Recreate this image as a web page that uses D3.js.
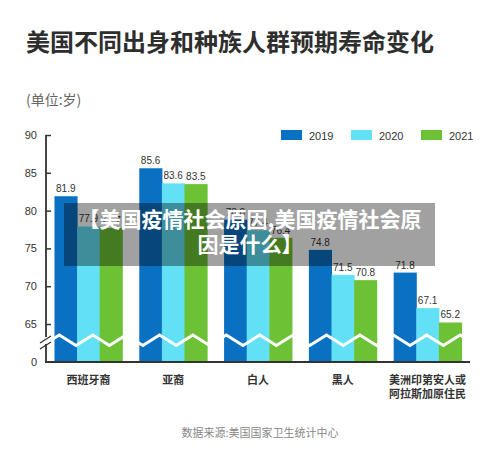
<!DOCTYPE html>
<html><head><meta charset="utf-8">
<script src="https://cdn.jsdelivr.net/npm/d3@7"></script>
<style>
body{margin:0;background:#fff;}
svg{display:block;}
</style></head>
<body>
<script>
const categories = ["西班牙裔","亚裔","白人","黑人","美洲印第安人或\n阿拉斯加原住民"];
const years = ["2019","2020","2021"];
const v2019 = [81.9, 85.6, 78.8, 74.8, 71.8];
const v2020 = [77.9, 83.6, 77.4, 71.5, 67.1];
const v2021 = [77.7, 83.5, 76.4, 70.8, 65.2];
const yTicks = [0, 65, 70, 75, 80, 85, 90];
const colors = ["#0a70c2", "#62e0f5", "#6cc135"];
const seriesVals = [v2019, v2020, v2021];

const W = 500, H = 470;
const svg = d3.select("body").append("svg").attr("width", W).attr("height", H);
const cjk = "'Noto Sans CJK SC','Noto Sans',sans-serif";
const num = "'Liberation Sans',Arial,'Noto Sans CJK SC',sans-serif";

svg.append("text").attr("x", 26).attr("y", 51).text("美国不同出身和种族人群预期寿命变化")
  .attr("font-family", cjk).attr("font-size", 24).attr("font-weight", 700).attr("fill", "#2e2e2e");
svg.append("text").attr("x", 26).attr("y", 105).text("(单位:岁)")
  .attr("font-family", cjk).attr("font-size", 14).attr("fill", "#666");

// legend
const lg = svg.append("g");
years.forEach((yr, i) => {
  const x0 = 281 + i * 70;
  lg.append("rect").attr("x", x0).attr("y", 130).attr("width", 21).attr("height", 10).attr("fill", colors[i]);
  lg.append("text").attr("x", x0 + 28).attr("y", 139.5).text(yr)
    .attr("font-family", num).attr("font-size", 11).attr("fill", "#333");
});

const x = d3.scaleBand().domain(categories).range([46, 470]).paddingInner(0.2).paddingOuter(0.1);
const xs = d3.scaleBand().domain(years).range([0, x.bandwidth()]);
const y = d3.scaleLinear().domain([0, 65, 90]).range([362, 324, 135]);

// bars
const groups = svg.append("g").selectAll("g").data(categories).join("g")
  .attr("transform", d => `translate(${x(d)},0)`);
groups.each(function(c, ci) {
  const g = d3.select(this);
  years.forEach((yr, si) => {
    const v = seriesVals[si][ci];
    g.append("rect").attr("x", xs(yr)).attr("y", y(v)).attr("width", xs.bandwidth() + 0.5)
      .attr("height", y(0) - y(v)).attr("fill", colors[si]);
    g.append("text").attr("x", xs(yr) + xs.bandwidth() / 2).attr("y", y(v) - 4)
      .attr("text-anchor", "middle").text(v.toFixed(1))
      .attr("font-family", num).attr("font-size", 10).attr("fill", "#333");
  });
});

// zigzag break line
const P = 33.4;
const pts = [];
for (let xx = 59.3 - P; xx < 480; xx += P) {
  pts.push([xx, 335]);
  pts.push([xx + P / 2, 345.5]);
}
svg.append("defs").append("clipPath").attr("id", "clipz").append("rect")
  .attr("x", 47).attr("y", 320).attr("width", 423).attr("height", 40);
svg.append("path").attr("d", d3.line()(pts)).attr("fill", "none")
  .attr("stroke", "#fff").attr("stroke-width", 3).attr("clip-path", "url(#clipz)");

// y axis
const yAxis = d3.axisLeft(y).tickValues(yTicks).tickSize(-5).tickPadding(9).tickFormat(d3.format("d"));
const ya = svg.append("g").attr("transform", "translate(46,0)").call(yAxis);
ya.select(".domain").remove();
ya.selectAll(".tick line").attr("stroke", "#333").attr("stroke-width", 1.5);
ya.selectAll(".tick").filter(d => d === 0).select("line").remove();
ya.selectAll(".tick text").attr("font-family", num).attr("font-size", 11).attr("fill", "#333");
svg.append("line").attr("x1", 46).attr("x2", 46).attr("y1", 135).attr("y2", 337).attr("stroke", "#333").attr("stroke-width", 1.8);
svg.append("line").attr("x1", 46).attr("x2", 46).attr("y1", 344).attr("y2", 362).attr("stroke", "#333").attr("stroke-width", 1.8);
svg.append("line").attr("x1", 40).attr("x2", 51).attr("y1", 343).attr("y2", 336).attr("stroke", "#333").attr("stroke-width", 1.3);
svg.append("line").attr("x1", 40).attr("x2", 51).attr("y1", 349).attr("y2", 342).attr("stroke", "#333").attr("stroke-width", 1.3);

// x axis
const xAxis = d3.axisBottom(x).tickSize(0).tickFormat("");
const xa = svg.append("g").attr("transform", "translate(0,362)").call(xAxis);
xa.select(".domain").attr("stroke", "#333").attr("stroke-width", 2).attr("d", "M45,0H470");
categories.forEach(c => {
  const lines = c.split("\n");
  lines.forEach((ln, li) => {
    svg.append("text").attr("x", x(c) + x.bandwidth() / 2).attr("y", 384 + li * 14)
      .attr("text-anchor", "middle").text(ln)
      .attr("font-family", cjk).attr("font-size", 11).attr("font-weight", 600).attr("fill", "#333");
  });
});

svg.append("text").attr("x", 260).attr("y", 437).attr("text-anchor", "middle")
  .text("数据来源:美国国家卫生统计中心")
  .attr("font-family", cjk).attr("font-size", 11).attr("fill", "#888");

// overlay caption
svg.append("rect").attr("x", 64).attr("y", 203).attr("width", 371).attr("height", 63)
  .attr("fill", "rgba(0,0,0,0.37)");
const ov = ["【美国疫情社会原因,美国疫情社会原", "因是什么】"];
ov.forEach((t, i) => {
  svg.append("text").attr("x", 250).attr("y", 227 + i * 25).attr("text-anchor", "middle").text(t)
    .attr("font-family", cjk).attr("font-size", 21).attr("font-weight", 700).attr("fill", "#fff");
});
</script>
</body></html>
